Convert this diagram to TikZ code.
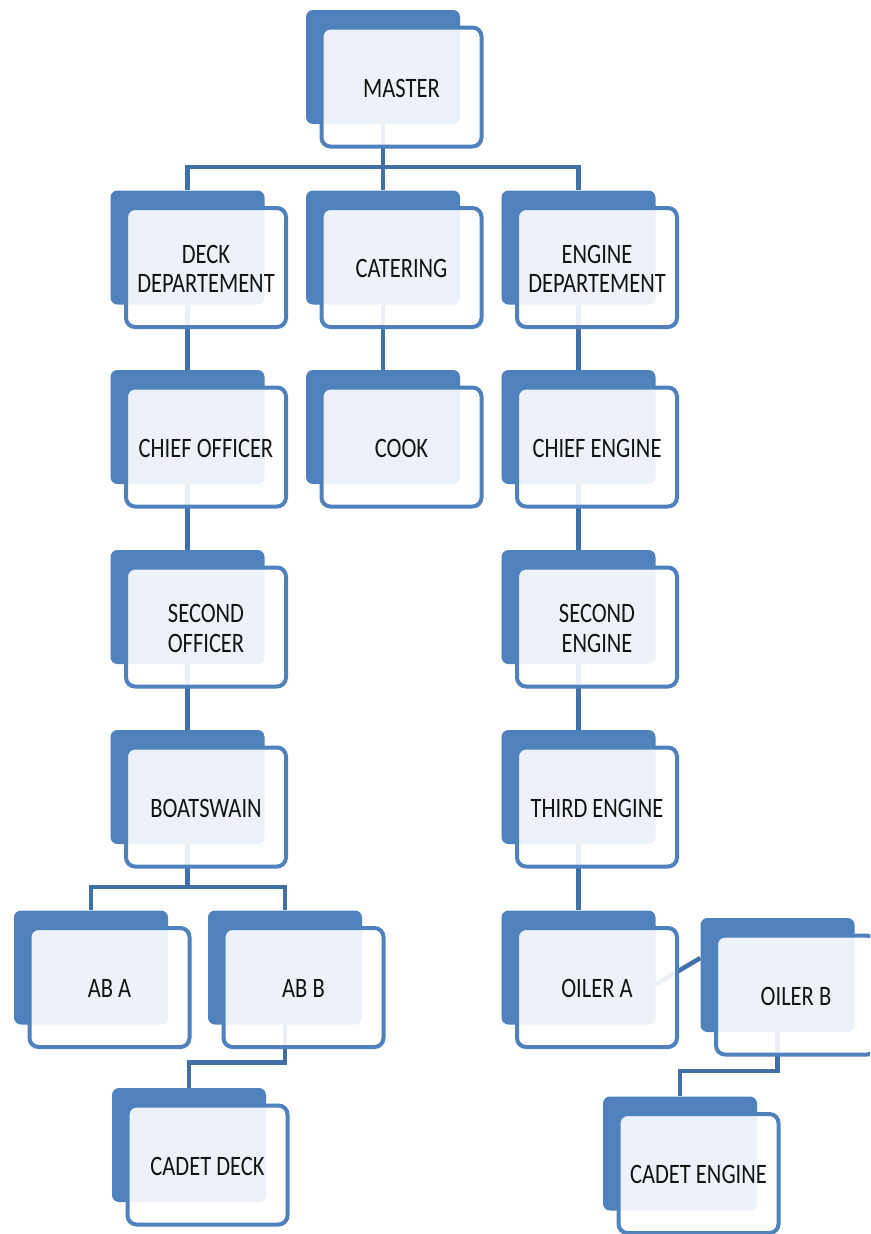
\documentclass[tikz,border=0pt]{standalone}
\usepackage{fontspec}
\setmainfont{Carlito}
\usepackage{graphicx}
\definecolor{boxblue}{RGB}{79,129,189}
\definecolor{linkblue}{RGB}{65,111,166}
\definecolor{txtgray}{RGB}{20,20,20}
\tikzset{
  backbox/.style={rectangle, rounded corners=7pt, fill=boxblue,
    minimum width=154pt, minimum height=114pt, inner sep=0pt},
  frontbox/.style={rectangle, rounded corners=9pt, draw=boxblue, line width=4pt,
    fill=white, fill opacity=0.9, text opacity=1, text=txtgray,
    minimum width=160pt, minimum height=119pt, inner sep=0pt,
    font=\fontsize{22.5}{23.5}\selectfont},
  link/.style={draw=linkblue, line width=4.5pt}
}
\newcommand{\crewlabel}[1]{\raisebox{0pt}[\dimexpr\height+9pt\relax][\depth]{%
  \scalebox{1}[1.25]{\begin{tabular}{@{}c@{}}#1\end{tabular}}}}
% name / x / y (centre of the back card) / label
\def\crewlist{master/383/67/MASTER,
  deck/187.5/247.5/{DECK\\DEPARTEMENT}, catering/383/247.5/CATERING,
  engine/578.5/247.5/{ENGINE\\DEPARTEMENT},
  chiefoff/187.5/427/CHIEF OFFICER, cook/383/427/COOK,
  chiefeng/578.5/427/CHIEF ENGINE,
  secoff/187.5/607/{SECOND\\OFFICER}, seceng/578.5/607/{SECOND\\ENGINE},
  bosun/187.5/787/BOATSWAIN, thirdeng/578.5/787/THIRD ENGINE,
  aba/91/967.5/AB A, abb/285/967.5/AB B,
  oilera/578.5/967.5/OILER A, oilerb/777.5/975/OILER B,
  cadetdeck/189/1145/CADET DECK, cadeteng/680/1153.5/CADET ENGINE}

\begin{document}
\begin{tikzpicture}[x=1pt,y=-1pt]
    \useasboundingbox (0,0) rectangle (870,1234);
    \fill[white] (0,0) rectangle (870,1234);
    \clip (0,0) rectangle (870,1234);
    % Back cards
    \foreach \n/\x/\y/\t in \crewlist
        \node[backbox] (\n) at (\x,\y) {};
    % Links
    \draw[link] (master.south) -- (catering.north);
    \draw[link] (master.south) -- ++(0,43) -| (deck.north);
    \draw[link] (master.south) -- ++(0,43) -| (engine.north);
    \foreach \a/\b in {deck/chiefoff, chiefoff/secoff, secoff/bosun, catering/cook,
        engine/chiefeng, chiefeng/seceng, seceng/thirdeng, thirdeng/oilera}
        \draw[link] (\a.south) -- (\b.north);
    \draw[link] (bosun.south) -- ++(0,43) -| (aba.north);
    \draw[link] (bosun.south) -- ++(0,43) -| (abb.north);
    \draw[link] (abb.south) -- ++(0,38) -| (cadetdeck.north);
    \draw[link] (oilerb.south) -- ++(0,39) -| (cadeteng.north);
    \draw[link] ([yshift=-17pt]oilera.east) -- ([yshift=17pt]oilerb.west);
    % Front cards
    \foreach \n/\x/\y/\t in \crewlist
        \node[frontbox] (\n-f) at ([shift={(18.5,20)}]\n.center) {\crewlabel{\t}};
\end{tikzpicture}
\end{document}
